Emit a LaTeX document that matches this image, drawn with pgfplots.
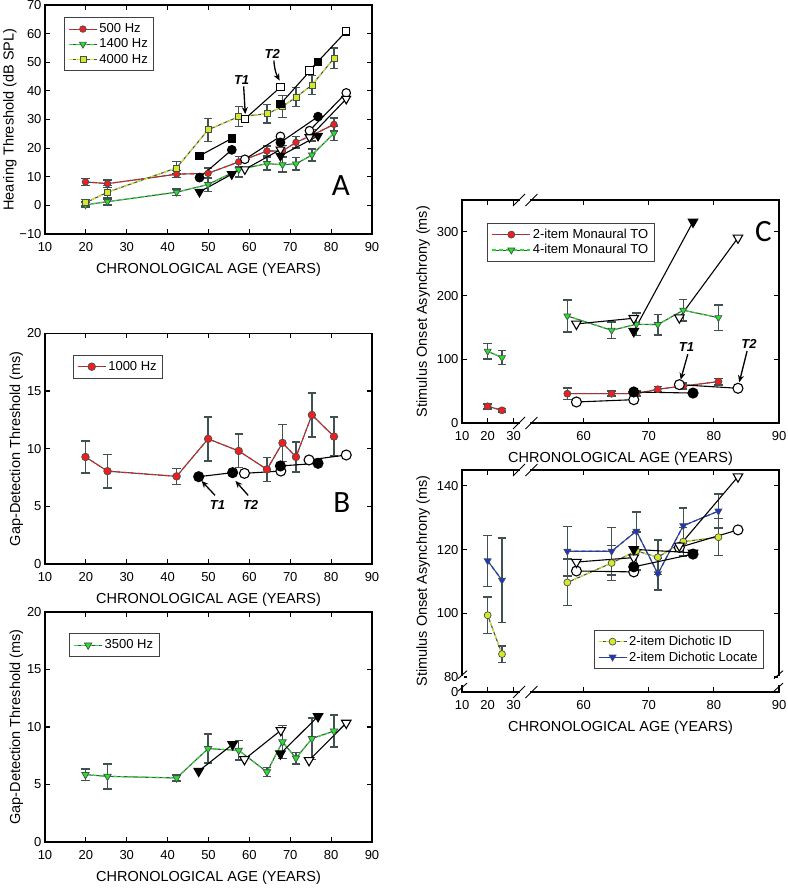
\documentclass[border=0pt]{standalone}
\usepackage{fontspec}
\setmainfont{Liberation Sans}
\newfontfamily\letterfont{Carlito}
\usepackage{pgfplots}
\pgfplotsset{compat=1.18}
\usepackage{pgfplotstable}
\usetikzlibrary{arrows.meta}

\definecolor{ebgray}{RGB}{65,80,80}
\definecolor{cred}{RGB}{240,30,30}
\definecolor{cgreen}{RGB}{40,225,40}
\definecolor{cyellow}{RGB}{215,232,40}
\definecolor{cblue}{RGB}{30,50,210}

\newcommand\tickfont{\fontsize{13}{15}\selectfont}
\newcommand\labfont{\fontsize{14.5}{17}\selectfont}
\newcommand\legfont{\fontsize{13}{15}\selectfont}
\newcommand\tfont{\fontsize{13}{15}\selectfont\bfseries\itshape}
\newcommand\pfont{\letterfont\fontsize{31}{31}\selectfont}
\newlength\leglen \setlength\leglen{28pt}

\tikzset{arr/.style={black, line width=1.3pt, -{Stealth[length=7pt,width=6pt]}}}

\pgfplotsset{
 panel/.style={scale only axis, clip=false,
   axis line style={line width=1.2pt},
   every tick/.style={black, line width=1.1pt}, major tick length=5pt,
   tick align=inside, xtick pos=both, ytick pos=both,
   ticklabel style={font=\tickfont}, label style={font=\labfont},
   xticklabel shift=5pt, xlabel shift=4pt,
   xlabel={CHRONOLOGICAL AGE (YEARS)},
   legend cell align=left,
   legend style={draw=black!75, line width=0.8pt, font=\legfont, inner xsep=4pt, inner ysep=4pt, row sep=0.5pt, fill=white},
   legend image code/.code={\draw[ebgray,solid,line width=1pt] (0pt,0pt) -- (\leglen,0pt);
     \draw[mark repeat=2,mark phase=2] plot coordinates {(0pt,0pt) (0.5\leglen,0pt) (\leglen,0pt)};}},
 grpline/.style={color=#1, dash pattern=on 4pt off 3pt, line width=1.1pt},
 eb/.style={error bars/.cd, y dir=both, y explicit,
   error bar style={ebgray, solid, line width=1.5pt},
   error mark options={ebgray, solid, line width=1.5pt, mark size=4.2pt, rotate=90}},
 under/.style={ebgray, solid, line width=1.1pt, forget plot},
 bkf/.style={black, solid, line width=1.1pt, mark size=#1, mark options={fill=black, draw=black}, forget plot},
 bko/.style={black, solid, line width=1.1pt, mark size=#1, mark options={fill=white, draw=black}, forget plot},
 bkft/.style={black, solid, line width=1.1pt, mark=triangle*, mark size=#1, mark options={fill=black, draw=black, rotate=180}, forget plot},
 bkot/.style={black, solid, line width=1.1pt, mark=triangle*, mark size=#1, mark options={fill=white, draw=black, rotate=180}, forget plot},
}

% ---------- data ----------
\pgfplotstableread{
x y e
19.9 8.2 1.2
25.3 7.6 1.3
42.2 10.9 1.2
49.9 11.2 1.8
57.4 15.2 1.8
64.3 19.0 1.8
68.1 19.0 2.0
71.4 22.0 2.0
75.3 24.5 2.0
80.7 28.3 2.3
}\Afive
\pgfplotstableread{
x y e
19.9 0.2 1.0
25.3 1.3 1.2
42.2 4.6 1.2
49.9 7.3 2.4
57.4 12.5 2.5
64.3 14.6 2.3
68.1 14.2 2.6
71.4 14.5 2.2
75.3 17.6 2.1
80.7 25.2 2.6
}\Afourteen
\pgfplotstableread{
x y e
19.9 0.9 1.2
25.3 4.6 2.3
42.2 13.1 2.2
49.9 26.4 4.0
57.4 31.0 3.5
64.3 32.0 3.2
68.1 34.5 3.8
71.4 37.8 3.3
75.3 42.0 3.3
80.7 51.4 3.6
}\Afourk
\pgfplotstableread{
x y e
19.9 9.28 1.4
25.3 8.05 1.45
42.2 7.6 0.7
49.9 10.85 1.9
57.4 9.8 1.45
64.3 8.2 1.05
68.1 10.5 1.6
71.4 9.28 1.3
75.3 12.92 1.9
80.7 11.05 1.68
}\Bk
\pgfplotstableread{
x y e
19.9 5.86 0.5
25.3 5.71 1.08
42.2 5.57 0.25
49.9 8.12 1.26
57.4 7.97 0.85
64.3 6.09 0.4
68.1 8.7 1.45
71.4 7.3 0.5
75.3 8.99 1.8
80.7 9.65 1.4
}\Bthree
% panel C / D: x is plotted on a broken scale (10->41.33, 20->45.27, 30->49.26; >=55 unchanged)
\pgfplotstableread{
x y e
45.27 26.2 4
47.47 19.9 3
}\CtwoL
\pgfplotstableread{
x y e
57.5 46 9
64.3 46 4
68.1 46 4
71.4 53 4
75.3 58 5
80.7 65 5
}\CtwoR
\pgfplotstableread{
x y e
45.27 112.6 12.5
47.47 102.6 11
}\CfourL
\pgfplotstableread{
x y e
57.5 168 25
64.3 145.5 13
68.1 155 18
71.4 154.5 16
75.3 177 17
80.7 165.4 20
}\CfourR
\pgfplotstableread{
x y e
45.27 99.4 5.7
47.47 87.2 2.6
}\DidL
\pgfplotstableread{
x y e
57.5 109.7 7.3
64.3 115.8 5.5
68.1 119.6 6
71.4 117.6 5.4
75.3 122.5 4.5
80.7 123.9 5.8
}\DidR
\pgfplotstableread{
x y e
45.27 116.5 8
47.47 110.4 13.2
}\DlocL
\pgfplotstableread{
x y e
57.5 119.5 7.7
64.3 119.5 7.4
68.1 125.8 6
71.4 112.4 5
75.3 127.5 5.6
80.7 132.1 5.3
}\DlocR

\begin{document}
\begin{tikzpicture}
\path[use as bounding box] (0pt,0pt) rectangle (787pt,-888pt);

% ================= Panel A =================
\begin{axis}[panel, at={(45pt,-234pt)}, anchor=south west, width=327pt, height=229pt,
  xmin=10, xmax=90, ymin=-10, ymax=70,
  xtick={10,20,...,90}, xticklabels={10,20,30,40,50,60,70,80,90},
  ytick={-10,0,...,70}, yticklabels={−10,0,10,20,30,40,50,60,70},
  ylabel={Hearing Threshold (dB SPL)}, ylabel shift=-4pt,
  legend style={at={(0.058,0.946)}, anchor=north west}]
\addplot[under] table[x=x,y=y]{\Afive};
\addplot[grpline=cred, mark=*, mark size=3.3pt, mark options={solid, fill=cred, draw=ebgray, line width=0.7pt}, eb] table[x=x,y=y,y error=e]{\Afive};
\addlegendentry{500 Hz}
\addplot[under] table[x=x,y=y]{\Afourteen};
\addplot[grpline=cgreen, mark=triangle*, mark size=4pt, mark options={solid, fill=cgreen, draw=ebgray, line width=0.7pt, rotate=180}, eb] table[x=x,y=y,y error=e]{\Afourteen};
\addlegendentry{1400 Hz}
\addplot[under] table[x=x,y=y]{\Afourk};
\addplot[grpline=cyellow, mark=square*, mark size=3pt, mark options={solid, fill=cyellow, draw=ebgray, line width=0.7pt}, eb] table[x=x,y=y,y error=e]{\Afourk};
\addlegendentry{4000 Hz}
% longitudinal
\addplot[bkf=3.7pt, mark=square*] coordinates {(47.8,17.3) (55.7,23.4)};
\addplot[bko=3.7pt, mark=square*] coordinates {(58.9,30.2) (67.6,41.3)};
\addplot[bkf=3.7pt, mark=square*] coordinates {(67.6,35.4) (76.8,50.1)};
\addplot[bko=3.7pt, mark=square*] coordinates {(74.7,47.1) (83.7,60.8)};
\addplot[bkf=4.3pt, mark=*] coordinates {(47.8,9.7) (55.7,19.4)};
\addplot[bko=4.3pt, mark=*] coordinates {(58.9,16.1) (67.6,24.1)};
\addplot[bkf=4.3pt, mark=*] coordinates {(67.6,22.0) (76.8,31.0)};
\addplot[bko=4.3pt, mark=*] coordinates {(74.7,26.1) (83.7,39.3)};
\addplot[bkft=5pt] coordinates {(47.8,4.7) (55.7,10.9)};
\addplot[bkot=5pt] coordinates {(58.9,12.6) (67.6,19.5)};
\addplot[bkft=5pt] coordinates {(67.6,17.3) (76.8,24.3)};
\addplot[bkot=5pt] coordinates {(74.7,23.8) (83.7,37.2)};
\node[font=\tfont] at (axis cs:58.1,43.9) {T1};
\draw[arr] (axis cs:58.6,41.6) -- (axis cs:59.0,31.9);
\node[font=\tfont] at (axis cs:65.6,53.0) {T2};
\draw[arr] (axis cs:66.0,50.6) to[bend right=12] (axis cs:67.4,43.6);
\node[font=\pfont] at (axis cs:82.4,6.9) {A};
\end{axis}

% ================= Panel B =================
\begin{axis}[panel, at={(45pt,-564pt)}, anchor=south west, width=327pt, height=230.7pt,
  xmin=10, xmax=90, ymin=0, ymax=20,
  xtick={10,20,...,90}, xticklabels={10,20,30,40,50,60,70,80,90},
  ytick={0,5,10,15,20}, yticklabels={0,5,10,15,20},
  ylabel={Gap-Detection Threshold (ms)}, ylabel shift=-3pt,
  legend style={at={(0.085,0.906)}, anchor=north west}]
\addplot[under] table[x=x,y=y]{\Bk};
\addplot[grpline=cred, mark=*, mark size=3.8pt, mark options={solid, fill=cred, draw=ebgray, line width=0.7pt}, eb] table[x=x,y=y,y error=e]{\Bk};
\addlegendentry{1000 Hz}
\addplot[bkf=5pt, mark=*] coordinates {(47.6,7.57) (55.9,7.92)};
\addplot[bko=5pt, mark=*] coordinates {(58.8,7.86) (67.7,8.06)};
\addplot[bkf=5pt, mark=*] coordinates {(67.6,8.5) (76.8,8.73)};
\addplot[bko=5pt, mark=*] coordinates {(74.6,9.02) (83.7,9.45)};
\node[font=\tfont] at (axis cs:52.2,5.1) {T1};
\draw[arr] (axis cs:51.6,5.95) -- (axis cs:48.3,7.2);
\node[font=\tfont] at (axis cs:60.3,5.1) {T2};
\draw[arr] (axis cs:59.7,5.95) -- (axis cs:56.6,7.2);
\node[font=\pfont] at (axis cs:82.6,5.3) {B};
\end{axis}

% ================= Panel B (3500 Hz) =================
\begin{axis}[panel, at={(45pt,-842pt)}, anchor=south west, width=327pt, height=230pt,
  xmin=10, xmax=90, ymin=0, ymax=20,
  xtick={10,20,...,90}, xticklabels={10,20,30,40,50,60,70,80,90},
  ytick={0,5,10,15,20}, yticklabels={0,5,10,15,20},
  ylabel={Gap-Detection Threshold (ms)}, ylabel shift=-3pt,
  legend style={at={(0.074,0.907)}, anchor=north west}]
\addplot[under] table[x=x,y=y]{\Bthree};
\addplot[grpline=cgreen, mark=triangle*, mark size=4.3pt, mark options={solid, fill=cgreen, draw=ebgray, line width=0.7pt, rotate=180}, eb] table[x=x,y=y,y error=e]{\Bthree};
\addlegendentry{3500 Hz}
\addplot[bkft=5.5pt] coordinates {(47.6,6.17) (55.9,8.49)};
\addplot[bkot=5.5pt] coordinates {(58.8,7.19) (67.7,9.71)};
\addplot[bkft=5.5pt] coordinates {(67.6,7.68) (76.8,10.93)};
\addplot[bkot=5.5pt] coordinates {(74.6,7.1) (83.7,10.35)};
\end{axis}

% ================= Panel C =================
\setlength\leglen{38pt}
\begin{axis}[panel, at={(462pt,-423pt)}, anchor=south west, width=317pt, height=223pt,
  xmin=41.33, xmax=90, ymin=0, ymax=350,
  xtick={41.33,45.27,49.26,60,70,80,90}, xticklabels={10,20,30,60,70,80,90},
  ytick={0,100,200,300}, yticklabels={0,100,200,300},
  ylabel={Stimulus Onset Asynchrony (ms)},
  legend style={at={(0.08,0.898)}, anchor=north west}]
\addplot[under] table[x=x,y=y]{\CtwoL};
\addplot[grpline=cred, mark=*, mark size=3.5pt, mark options={solid, fill=cred, draw=ebgray, line width=0.7pt}, eb] table[x=x,y=y,y error=e]{\CtwoL};
\addlegendentry{2-item Monaural TO}
\addplot[under] table[x=x,y=y]{\CfourL};
\addplot[grpline=cgreen, mark=triangle*, mark size=4pt, mark options={solid, fill=cgreen, draw=ebgray, line width=0.7pt, rotate=180}, eb] table[x=x,y=y,y error=e]{\CfourL};
\addlegendentry{4-item Monaural TO}
\addplot[under] table[x=x,y=y]{\CtwoR};
\addplot[grpline=cred, mark=*, mark size=3.5pt, mark options={solid, fill=cred, draw=ebgray, line width=0.7pt}, forget plot, eb] table[x=x,y=y,y error=e]{\CtwoR};
\addplot[under] table[x=x,y=y]{\CfourR};
\addplot[grpline=cgreen, mark=triangle*, mark size=4pt, mark options={solid, fill=cgreen, draw=ebgray, line width=0.7pt, rotate=180}, forget plot, eb] table[x=x,y=y,y error=e]{\CfourR};
\addplot[bko=5pt, mark=*] coordinates {(58.9,33) (67.7,36.6)};
\addplot[bkf=5pt, mark=*] coordinates {(67.7,48.7) (76.8,47)};
\addplot[bko=5pt, mark=*] coordinates {(74.7,60.2) (83.7,54.5)};
\addplot[bkot=5.5pt] coordinates {(58.9,155.5) (67.7,164.4)};
\addplot[bkft=5.5pt] coordinates {(67.7,144) (76.8,315.7)};
\addplot[bkot=5.5pt] coordinates {(74.7,165.4) (83.7,290.6)};
\node[font=\tfont] at (axis cs:75.8,119) {T1};
\draw[arr] (axis cs:76.0,108) -- (axis cs:74.9,68);
\node[font=\tfont] at (axis cs:85.4,124.6) {T2};
\draw[arr] (axis cs:85.1,113) -- (axis cs:83.9,64);
\node[font=\pfont] at (axis cs:87.6,300) {C};
% axis breaks
\draw[white, line width=3pt] (rel axis cs:0.184,0) -- (rel axis cs:0.215,0);
\draw[white, line width=3pt] (rel axis cs:0.184,1) -- (rel axis cs:0.215,1);
\draw[line width=0.9pt] ([shift={(-6pt,-6pt)}]rel axis cs:0.180,0) -- ([shift={(6pt,6pt)}]rel axis cs:0.180,0);
\draw[line width=0.9pt] ([shift={(-6pt,-6pt)}]rel axis cs:0.219,0) -- ([shift={(6pt,6pt)}]rel axis cs:0.219,0);
\draw[line width=0.9pt] ([shift={(-6pt,-6pt)}]rel axis cs:0.180,1) -- ([shift={(6pt,6pt)}]rel axis cs:0.180,1);
\draw[line width=0.9pt] ([shift={(-6pt,-6pt)}]rel axis cs:0.219,1) -- ([shift={(6pt,6pt)}]rel axis cs:0.219,1);
\end{axis}

% ================= Panel D =================
\setlength\leglen{28pt}
\begin{axis}[panel, at={(462pt,-692pt)}, anchor=south west, width=317pt, height=222pt,
  xmin=41.33, xmax=90, ymin=75.3, ymax=145,
  xtick={41.33,45.27,49.26,60,70,80,90}, xticklabels={10,20,30,60,70,80,90},
  ytick={75.3,80,100,120,140}, yticklabels={0,80,100,120,140},
  ylabel={Stimulus Onset Asynchrony (ms)},
  legend style={at={(0.953,0.104)}, anchor=south east}]
\addplot[under] table[x=x,y=y]{\DidL};
\addplot[grpline=cyellow, mark=*, mark size=3.5pt, mark options={solid, fill=cyellow, draw=ebgray, line width=0.7pt}, eb] table[x=x,y=y,y error=e]{\DidL};
\addlegendentry{2-item Dichotic ID}
\addplot[under] table[x=x,y=y]{\DlocL};
\addplot[grpline=cblue, mark=triangle*, mark size=4pt, mark options={solid, fill=cblue, draw=ebgray, line width=0.7pt, rotate=180}, eb] table[x=x,y=y,y error=e]{\DlocL};
\addlegendentry{2-item Dichotic Locate}
\addplot[under] table[x=x,y=y]{\DidR};
\addplot[grpline=cyellow, mark=*, mark size=3.5pt, mark options={solid, fill=cyellow, draw=ebgray, line width=0.7pt}, forget plot, eb] table[x=x,y=y,y error=e]{\DidR};
\addplot[under] table[x=x,y=y]{\DlocR};
\addplot[grpline=cblue, mark=triangle*, mark size=4pt, mark options={solid, fill=cblue, draw=ebgray, line width=0.7pt, rotate=180}, forget plot, eb] table[x=x,y=y,y error=e]{\DlocR};
\addplot[bko=5pt, mark=*] coordinates {(58.9,113.3) (67.7,113.0)};
\addplot[bkf=5pt, mark=*] coordinates {(67.7,114.6) (76.8,118.6)};
\addplot[bko=5pt, mark=*] coordinates {(74.7,120.7) (83.7,126.2)};
\addplot[bkot=5.5pt] coordinates {(58.9,116.1) (67.7,117.5)};
\addplot[bkft=5.5pt] coordinates {(67.7,120.1) (76.8,119.0)};
\addplot[bkot=5.5pt] coordinates {(74.7,121.2) (83.7,142.9)};
% axis breaks
\draw[white, line width=3pt] (rel axis cs:0.184,0) -- (rel axis cs:0.215,0);
\draw[white, line width=3pt] (rel axis cs:0.184,1) -- (rel axis cs:0.215,1);
\draw[line width=0.9pt] ([shift={(-6pt,-6pt)}]rel axis cs:0.180,0) -- ([shift={(6pt,6pt)}]rel axis cs:0.180,0);
\draw[line width=0.9pt] ([shift={(-6pt,-6pt)}]rel axis cs:0.219,0) -- ([shift={(6pt,6pt)}]rel axis cs:0.219,0);
\draw[line width=0.9pt] ([shift={(-6pt,-6pt)}]rel axis cs:0.180,1) -- ([shift={(6pt,6pt)}]rel axis cs:0.180,1);
\draw[line width=0.9pt] ([shift={(-6pt,-6pt)}]rel axis cs:0.219,1) -- ([shift={(6pt,6pt)}]rel axis cs:0.219,1);
\draw[white, line width=3pt] (rel axis cs:0,0.03) -- (rel axis cs:0,0.072);
\draw[white, line width=3pt] (rel axis cs:1,0.03) -- (rel axis cs:1,0.072);
\draw[line width=0.9pt] ([shift={(-4pt,-4pt)}]rel axis cs:0,0.078) -- ([shift={(5pt,4pt)}]rel axis cs:0,0.078);
\draw[line width=0.9pt] ([shift={(-4pt,-4pt)}]rel axis cs:0,0.022) -- ([shift={(5pt,4pt)}]rel axis cs:0,0.022);
\draw[line width=0.9pt] ([shift={(-5pt,-4pt)}]rel axis cs:1,0.078) -- ([shift={(4pt,4pt)}]rel axis cs:1,0.078);
\draw[line width=0.9pt] ([shift={(-5pt,-4pt)}]rel axis cs:1,0.022) -- ([shift={(4pt,4pt)}]rel axis cs:1,0.022);
\end{axis}
\end{tikzpicture}
\end{document}
